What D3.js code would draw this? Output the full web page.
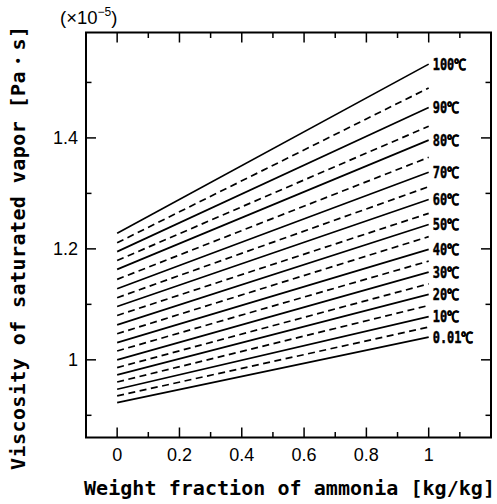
<!DOCTYPE html>
<html>
<head>
<meta charset="utf-8">
<script src="https://cdn.jsdelivr.net/npm/d3@7"></script>
<style>
  html, body { margin: 0; padding: 0; background: #fff; }
  svg { display: block; }
</style>
</head>
<body>
<script>
// isotherms, 0.01 C up to 100 C every 5 degrees
const temps = [0.01, 5, 10, 15, 20, 25, 30, 35, 40, 45, 50, 55, 60, 65, 70, 75, 80, 85, 90, 95, 100]
// viscosity (x1e-5 Pa s) at fraction 0 and fraction 1
const atZero = [0.923, 0.935, 0.947, 0.960, 0.973, 0.986, 1.000, 1.016, 1.031, 1.047, 1.063,
                1.080, 1.096, 1.112, 1.128, 1.145, 1.163, 1.179, 1.195, 1.211, 1.228]
const atOne = [1.041, 1.059, 1.078, 1.098, 1.118, 1.137, 1.158, 1.178, 1.199, 1.222, 1.244,
               1.264, 1.289, 1.312, 1.338, 1.365, 1.396, 1.421, 1.455, 1.490, 1.533]
const fractions = [0, 1]
const lineLabels = ['0.01℃', '', '10℃', '', '20℃', '', '30℃', '', '40℃', '', '50℃',
                    '', '60℃', '', '70℃', '', '80℃', '', '90℃', '', '100℃']
const xMajor = [0, 0.2, 0.4, 0.6, 0.8, 1]
const xMinor = [0.1, 0.3, 0.5, 0.7, 0.9, 1.1]
const yMajor = [1, 1.2, 1.4]
const yMinor = [0.9, 1.1, 1.3, 1.5]

const W = 497, H = 504
const plotLeft = 86, plotRight = 491, plotTop = 32.5, plotBottom = 437.5

const svg = d3.select('body').append('svg')
    .attr('width', W).attr('height', H)

const x = d3.scaleLinear().domain([-0.1, 1.2]).range([plotLeft, plotRight])
const y = d3.scaleLinear().domain([0.86, 1.59]).range([plotBottom, plotTop])

// isotherm lines
const line = d3.line()
    .x(d => x(d[0]))
    .y(d => y(d[1]))

temps.forEach((t, i) => {
  const pts = fractions.map(f => [f, f === 0 ? atZero[i] : atOne[i]])
  svg.append('path')
      .attr('d', line(pts))
      .attr('fill', 'none')
      .attr('stroke', '#000')
      .attr('stroke-width', 1.7)
      .attr('stroke-dasharray', i % 2 === 1 ? '7,4.5' : null)
  if (lineLabels[i]) {
    svg.append('text')
        .attr('transform', 'translate(' + (x(1) + 4) + ',' + (y(atOne[i]) + 5.5) + ') scale(0.77,1)')
        .attr('font-family', '"DejaVu Sans Mono", monospace')
        .attr('font-weight', 'bold')
        .attr('font-size', 15.5)
        .attr('stroke', '#000').attr('stroke-width', 0.5)
        .text(lineLabels[i])
  }
})

// ticks on all four sides, pointing inward
const tickLen = 10, minorLen = 5.5
const tickStyle = sel => sel.attr('stroke', '#000').attr('stroke-width', 1.5)

function xTicks(vals, len) {
  vals.forEach(v => {
    svg.append('line').call(tickStyle)
        .attr('x1', x(v)).attr('x2', x(v)).attr('y1', plotBottom).attr('y2', plotBottom - len)
    svg.append('line').call(tickStyle)
        .attr('x1', x(v)).attr('x2', x(v)).attr('y1', plotTop).attr('y2', plotTop + len)
  })
}
function yTicks(vals, len) {
  vals.forEach(v => {
    svg.append('line').call(tickStyle)
        .attr('x1', plotLeft).attr('x2', plotLeft + len).attr('y1', y(v)).attr('y2', y(v))
    svg.append('line').call(tickStyle)
        .attr('x1', plotRight).attr('x2', plotRight - len).attr('y1', y(v)).attr('y2', y(v))
  })
}
xTicks(xMajor, tickLen)
xTicks(xMinor, minorLen)
yTicks(yMajor, tickLen)
yTicks(yMinor, minorLen)

// frame
svg.append('rect')
    .attr('x', plotLeft).attr('y', plotTop)
    .attr('width', plotRight - plotLeft).attr('height', plotBottom - plotTop)
    .attr('fill', 'none').attr('stroke', '#000').attr('stroke-width', 2)

// tick labels
const tickFont = '"Liberation Sans", Arial, sans-serif'
svg.append('g').selectAll('text').data(xMajor).join('text')
    .attr('x', d => x(d)).attr('y', plotBottom + 11 + 12.5)
    .attr('text-anchor', 'middle')
    .attr('font-family', tickFont).attr('font-size', 18)
    .text(d => d3.format('~g')(d))

svg.append('g').selectAll('text').data(yMajor).join('text')
    .attr('x', plotLeft - 8).attr('y', d => y(d) + 6.5)
    .attr('text-anchor', 'end')
    .attr('font-family', tickFont).attr('font-size', 18)
    .text(d => d3.format('~g')(d))

// scale multiplier
const mult = svg.append('text')
    .attr('x', 60).attr('y', 24)
    .attr('font-family', tickFont).attr('font-size', 18.5)
mult.append('tspan').text('(×10')
mult.append('tspan').attr('dy', -8).attr('font-size', 12).text('−5')
mult.append('tspan').attr('dy', 8).text(')')

// axis titles
const titleFont = '"DejaVu Sans Mono", monospace'
svg.append('text')
    .attr('x', (plotLeft + plotRight) / 2 + 1).attr('y', 495)
    .attr('text-anchor', 'middle')
    .attr('font-family', titleFont).attr('font-weight', 'bold').attr('font-size', 20)
    .attr('textLength', 411).attr('lengthAdjust', 'spacing')
    .text('Weight fraction of ammonia [kg/kg]')

svg.append('text')
    .attr('transform', 'translate(24.5,248) rotate(-90)')
    .attr('text-anchor', 'middle')
    .attr('font-family', titleFont).attr('font-weight', 'bold').attr('font-size', 20)
    .attr('textLength', 444).attr('lengthAdjust', 'spacing')
    .text('Viscosity of saturated vapor [Pa・s]')
</script>
</body>
</html>
